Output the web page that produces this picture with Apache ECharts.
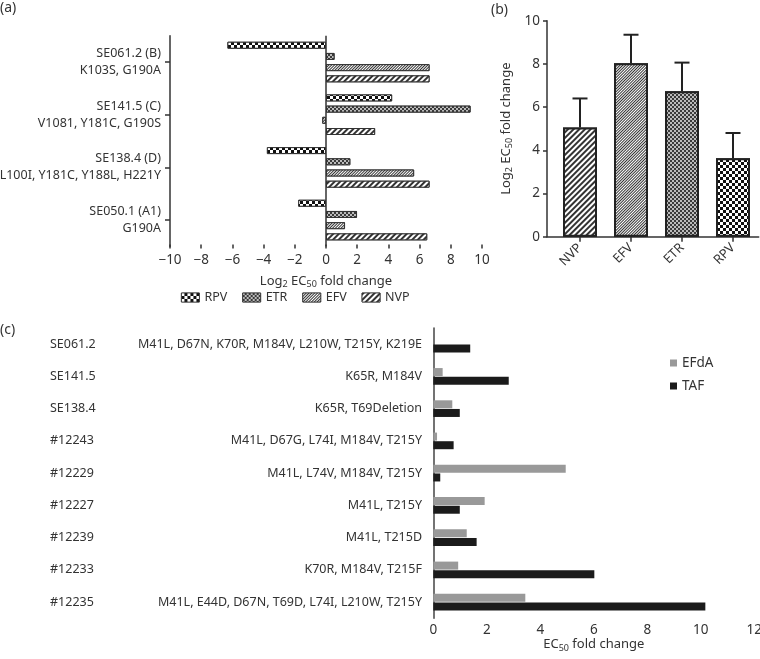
<!DOCTYPE html>
<html>
<head>
<meta charset="utf-8">
<script src="https://cdn.jsdelivr.net/npm/echarts@6/dist/echarts.min.js"></script>
<style>
  html, body { margin: 0; padding: 0; background: #fff; }
  #chart { width: 760px; height: 659px; }
</style>
</head>
<body>
<div id="chart"></div>
<script>
// (a) log2 fold change per isolate
const isolates = ['SE061.2 (B)', 'SE141.5 (C)', 'SE138.4 (D)', 'SE050.1 (A1)'];
const isolateMutations = ['K103S, G190A', 'V1081, Y181C, G190S', 'L100I, Y181C, Y188L, H221Y', 'G190A'];
const rpvLog2 = [-6.32, 4.24, -3.79, -1.78];
const etrLog2 = [0.55, 9.27, 1.56, 1.99];
const efvLog2 = [6.64, -0.24, 5.65, 1.22];
const nvpLog2 = [6.64, 3.15, 6.64, 6.49];

// (b) mean + upper error
const drugs = ['NVP', 'EFV', 'ETR', 'RPV'];
const meanLog2 = [5.06, 8.03, 6.73, 3.63];
const upperLog2 = [6.4, 9.35, 8.06, 4.8];

// (c) EC50 fold change
const samples = ['SE061.2', 'SE141.5', 'SE138.4', '#12243', '#12229', '#12227', '#12239', '#12233', '#12235'];
const nrtiMutations = [
  'M41L, D67N, K70R, M184V, L210W, T215Y, K219E',
  'K65R, M184V',
  'K65R, T69Deletion',
  'M41L, D67G, L74I, M184V, T215Y',
  'M41L, L74V, M184V, T215Y',
  'M41L, T215Y',
  'M41L, T215D',
  'K70R, M184V, T215F',
  'M41L, E44D, D67N, T69D, L74I, L210W, T215Y'
];
const efdaFold = [0, 0.35, 0.71, 0.14, 4.95, 1.92, 1.25, 0.93, 3.44];
const tafFold = [1.38, 2.82, 0.99, 0.76, 0.26, 0.99, 1.62, 6.02, 10.17];

const TXT = '#333';
const FS = 12.5;

const patterns = {
  RPV: { symbol: 'rect', symbolSize: 1, dashArrayX: [[3, 3], [0, 3, 3, 0]], dashArrayY: [3, 0], color: '#111', backgroundColor: '#fff' },
  ETR: { symbol: 'rect', symbolSize: 1, dashArrayX: [[2, 2], [0, 2, 2, 0]], dashArrayY: [2, 0], color: '#3a3a3a', backgroundColor: '#bbb' },
  EFV: { symbol: 'rect', symbolSize: 1, dashArrayX: [1, 0], dashArrayY: [1, 1], rotation: -Math.PI / 4, color: '#333', backgroundColor: '#fff' },
  NVP: { symbol: 'rect', symbolSize: 1, dashArrayX: [1, 0], dashArrayY: [2, 2], rotation: -Math.PI / 4, color: '#333', backgroundColor: '#fff' }
};

const subRich = {
  n: { fontSize: 13, color: TXT, lineHeight: 16 },
  s: { fontSize: 9, color: TXT, lineHeight: 10, verticalAlign: 'bottom' }
};

const minus = v => (v < 0 ? '\u2212' + (-v) : String(v));

const chart = echarts.init(document.getElementById('chart'));

const aSeries = [
  ['RPV', rpvLog2], ['ETR', etrLog2], ['EFV', efvLog2], ['NVP', nvpLog2]
].map(([name, vals], k) => ({
  name: name,
  type: 'bar',
  xAxisIndex: 0,
  yAxisIndex: 0,
  data: vals,
  barWidth: 7,
  barGap: '60%',
  itemStyle: { color: '#fff', borderColor: '#333', borderWidth: 1, decal: patterns[name] },
  markLine: k === 0 ? {
    silent: true,
    symbol: 'none',
    label: { show: false },
    lineStyle: { color: '#333', width: 1.5, type: 'solid' },
    data: [{ xAxis: 0 }]
  } : undefined
}));

chart.setOption({
  animation: false,
  textStyle: { fontFamily: 'Noto Sans', color: TXT },
  title: [
    { text: '(a)', left: 0, top: 1, padding: 0, textStyle: { fontSize: 14, fontWeight: 'normal', color: TXT } },
    { text: '(b)', left: 491, top: 3, padding: 0, textStyle: { fontSize: 14, fontWeight: 'normal', color: TXT } },
    { text: '(c)', left: 0, top: 323, padding: 0, textStyle: { fontSize: 14, fontWeight: 'normal', color: TXT } }
  ],
  legend: [
    {
      data: ['RPV', 'ETR', 'EFV', 'NVP'],
      left: 181, top: 291, padding: 0,
      icon: 'rect', itemWidth: 18, itemHeight: 9, itemGap: 15, itemStyle: { borderWidth: 0.8 },
      textStyle: { fontSize: FS, color: TXT }
    },
    {
      data: ['EFdA', 'TAF'],
      orient: 'vertical',
      left: 670, top: 356, padding: 0,
      icon: 'rect', itemWidth: 7, itemHeight: 7, itemGap: 9,
      textStyle: { fontSize: 13.5, color: TXT }
    }
  ],
  grid: [
    { left: 170, top: 35.7, width: 312, height: 210.7, outerBoundsMode: 'none', containLabel: false },
    { left: 547, top: 20.7, width: 211.7, height: 216, outerBoundsMode: 'none', containLabel: false },
    { left: 554.5, top: 20.7, width: 204, height: 216, outerBoundsMode: 'none', containLabel: false },
    { left: 433.3, top: 328, width: 321, height: 290.3, outerBoundsMode: 'none', containLabel: false }
  ],
  xAxis: [
    {
      gridIndex: 0, type: 'value', min: -10, max: 10, interval: 2, offset: -2,
      axisLine: { lineStyle: { color: '#333', width: 1.5 } },
      axisTick: { show: true, length: 4, lineStyle: { color: '#333', width: 1.5 } },
      axisLabel: { formatter: minus, margin: 9, fontSize: 13.5, color: TXT },
      splitLine: { show: false },
      name: '{n|Log}{s|2}{n| EC}{s|50}{n| fold change}',
      nameLocation: 'middle', nameGap: 29,
      nameTextStyle: { rich: subRich }
    },
    {
      gridIndex: 1, type: 'value', min: 0, max: 1,
      axisLine: { lineStyle: { color: '#333', width: 1.5 } },
      axisTick: { show: false }, axisLabel: { show: false }, splitLine: { show: false }
    },
    {
      gridIndex: 2, type: 'category', data: drugs,
      axisLine: { show: false },
      axisTick: { show: true, alignWithLabel: true, length: 5, lineStyle: { color: '#333', width: 1.5 } },
      axisLabel: { rotate: 45, margin: 9, fontSize: 13, color: TXT }
    },
    {
      gridIndex: 3, type: 'value', min: 0, max: 12, interval: 2,
      axisLine: { lineStyle: { color: '#444', width: 1.5 } },
      axisTick: { show: false },
      axisLabel: { margin: 5, fontSize: 13.5, color: TXT },
      splitLine: { show: false },
      name: '{n|EC}{s|50}{n| fold change}',
      nameLocation: 'middle', nameGap: 17,
      nameTextStyle: { rich: subRich }
    }
  ],
  yAxis: [
    {
      gridIndex: 0, type: 'category', data: isolates, inverse: true,
      axisLine: { onZero: false, lineStyle: { color: '#333', width: 1.5 } },
      axisTick: { show: true, alignWithLabel: true, length: 5, lineStyle: { color: '#333', width: 1.5 } },
      axisLabel: {
        formatter: (v, i) => v + '\n' + isolateMutations[i],
        lineHeight: 17, padding: [17, 0, 0, 0], margin: 9, fontSize: FS, color: TXT
      }
    },
    {
      gridIndex: 1, type: 'value', min: 0, max: 10, interval: 2,
      axisLine: { show: true, lineStyle: { color: '#333', width: 1.5 } },
      axisTick: { show: true, length: 4, lineStyle: { color: '#333', width: 1.5 } },
      axisLabel: { margin: 7, fontSize: 13.5, color: TXT },
      splitLine: { show: false },
      name: '{n|Log}{s|2}{n| EC}{s|50}{n| fold change}',
      nameLocation: 'middle', nameGap: 33,
      nameTextStyle: { rich: subRich }
    },
    { gridIndex: 2, type: 'value', min: 0, max: 10, show: false },
    {
      gridIndex: 3, type: 'category', data: samples, inverse: true,
      axisLine: { lineStyle: { color: '#444', width: 1.5 } },
      axisTick: { show: false },
      axisLabel: { align: 'left', margin: 383.3, fontSize: FS, color: TXT }
    },
    {
      gridIndex: 3, type: 'category', data: nrtiMutations, inverse: true, position: 'left',
      axisLine: { show: false }, axisTick: { show: false },
      axisLabel: { margin: 11.3, fontSize: FS, color: TXT }
    }
  ],
  series: aSeries.concat([
    {
      type: 'bar', xAxisIndex: 2, yAxisIndex: 2,
      barWidth: 34,
      data: meanLog2.map((v, i) => ({
        value: v,
        itemStyle: { color: '#fff', borderColor: '#222', borderWidth: 2, decal: patterns[drugs[i]] }
      }))
    },
    {
      type: 'custom', xAxisIndex: 2, yAxisIndex: 2,
      data: drugs.map((d, i) => [i, meanLog2[i], upperLog2[i]]),
      encode: { x: 0, y: [1, 2] },
      renderItem: (params, api) => {
        const base = api.coord([api.value(0), api.value(1)]);
        const top = api.coord([api.value(0), api.value(2)]);
        const st = { stroke: '#222', lineWidth: 2 };
        return {
          type: 'group',
          children: [
            { type: 'line', shape: { x1: base[0], y1: base[1], x2: top[0], y2: top[1] }, style: st },
            { type: 'line', shape: { x1: top[0] - 7.5, y1: top[1], x2: top[0] + 7.5, y2: top[1] }, style: st }
          ]
        };
      }
    },
    {
      name: 'EFdA', type: 'bar', xAxisIndex: 3, yAxisIndex: 3,
      data: efdaFold, barWidth: 8, barGap: '8%',
      itemStyle: { color: '#999' }
    },
    {
      name: 'TAF', type: 'bar', xAxisIndex: 3, yAxisIndex: 3,
      data: tafFold, barWidth: 8, barGap: '8%',
      itemStyle: { color: '#1b1b1b' }
    }
  ])
});
</script>
</body>
</html>
